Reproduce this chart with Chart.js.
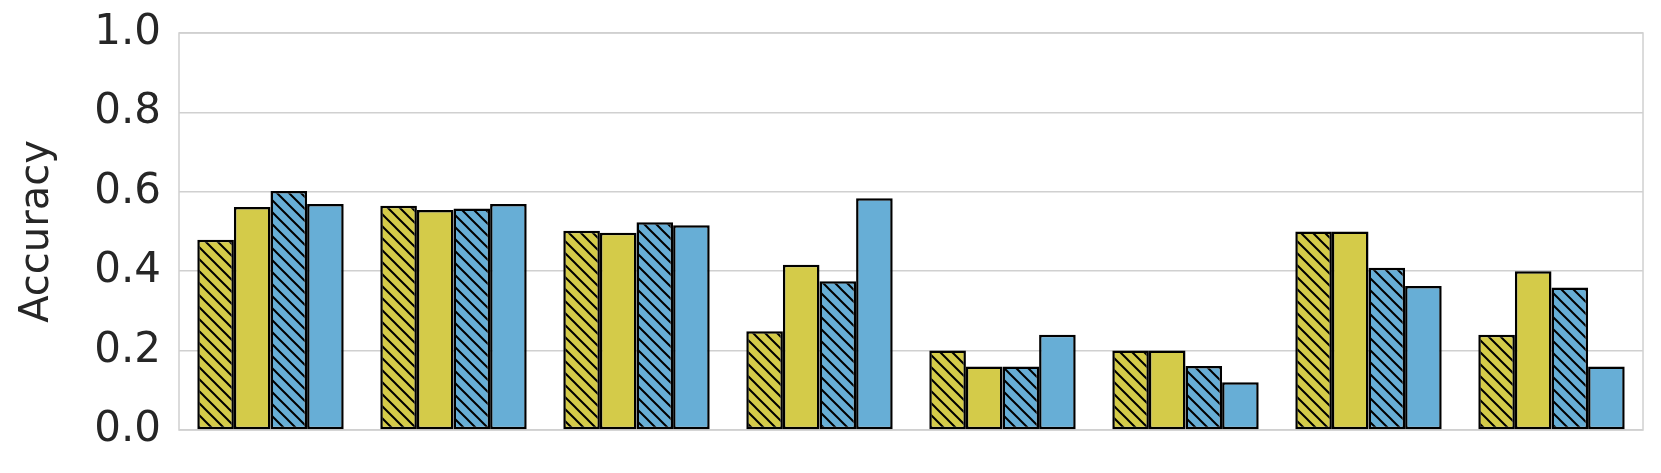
<!DOCTYPE html>
<html>
<head>
<meta charset="utf-8">
<script src="https://cdn.jsdelivr.net/npm/chart.js@4/dist/chart.umd.min.js"></script>
<style>
  html, body { margin: 0; padding: 0; background: #fff; }
  #wrap { width: 1661px; height: 473px; }
</style>
</head>
<body>
<div id="wrap"><canvas id="chart" width="1661" height="473"></canvas></div>
<script>
// categories (no tick labels shown in the picture)
const groups = ['1', '2', '3', '4', '5', '6', '7', '8'];
const yTicks = [0, 0.2, 0.4, 0.6, 0.8, 1.0];

// series values
const yellowHatched = [0.479, 0.565, 0.502, 0.249, 0.200, 0.200, 0.500, 0.240];
const yellowPlain   = [0.562, 0.554, 0.497, 0.416, 0.160, 0.200, 0.500, 0.400];
const blueHatched   = [0.602, 0.558, 0.523, 0.375, 0.160, 0.161, 0.409, 0.359];
const bluePlain     = [0.569, 0.569, 0.516, 0.584, 0.240, 0.120, 0.363, 0.160];

const YELLOW = '#d4cb49';
const BLUE = '#67aed6';
const GRID = '#d0d0d0';

// diagonal "\" hatch on a coloured tile
function hatch(color) {
    const size = 12;
    const c = document.createElement('canvas');
    c.width = size; c.height = size;
    const g = c.getContext('2d');
    g.fillStyle = color;
    g.fillRect(0, 0, size, size);
    g.strokeStyle = '#000';
    g.lineWidth = 2;
    g.beginPath();
    [-size, 0, size].forEach(o => {
        g.moveTo(o - 2, -2);
        g.lineTo(o + size + 2, size + 2);
    });
    g.stroke();
    return g.createPattern(c, 'repeat');
}

// light grey frame round the plot area
const frame = {
    id: 'frame',
    beforeDatasetsDraw(chart) {
        const a = chart.chartArea;
        const ctx = chart.ctx;
        ctx.save();
        ctx.strokeStyle = GRID;
        ctx.lineWidth = 1.5;
        ctx.strokeRect(a.left, a.top, a.right - a.left, a.bottom - a.top);
        ctx.restore();
    }
};

const bar = (label, data, bg) => ({
    label, data,
    backgroundColor: bg,
    borderColor: '#000',
    borderWidth: 2.5,
    borderSkipped: false,
    categoryPercentage: 0.8,
    barPercentage: 1.0
});

new Chart(document.getElementById('chart').getContext('2d'), {
    type: 'bar',
    data: {
        labels: groups,
        datasets: [
            bar('yellow hatched', yellowHatched, hatch(YELLOW)),
            bar('yellow', yellowPlain, YELLOW),
            bar('blue hatched', blueHatched, hatch(BLUE)),
            bar('blue', bluePlain, BLUE)
        ]
    },
    plugins: [frame],
    options: {
        responsive: false,
        animation: false,
        layout: { padding: { left: 0, right: 18, top: 33, bottom: 43 } },
        plugins: {
            legend: { display: false },
            tooltip: { enabled: false }
        },
        scales: {
            x: { display: false },
            y: {
                min: 0,
                max: 1,
                afterBuildTicks: s => { s.ticks = yTicks.map(v => ({ value: v })); },
                afterFit: s => { s.width = 179; },
                border: { display: false },
                grid: { color: GRID, lineWidth: 1.5, drawTicks: false },
                ticks: {
                    padding: 18,
                    color: '#262626',
                    font: { family: 'DejaVu Sans', size: 42, lineHeight: 0.6 },
                    callback: v => Number(v).toFixed(1)
                },
                title: {
                    display: true,
                    text: 'Accuracy',
                    color: '#262626',
                    font: { family: 'DejaVu Sans', size: 40 },
                    padding: { top: 14, bottom: 0 }
                }
            }
        }
    }
});
</script>
</body>
</html>
